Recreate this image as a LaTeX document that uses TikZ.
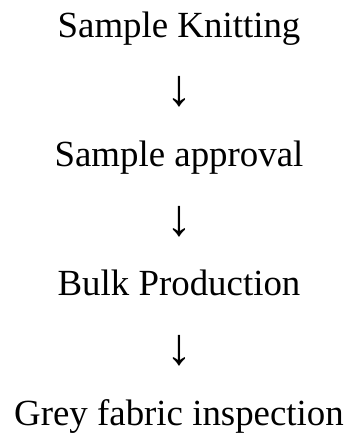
\documentclass[tikz,border=0pt]{standalone}
\usepackage{fontspec}
\setmainfont{Liberation Serif}
\begin{document}
\begin{tikzpicture}[x=1bp,y=-1bp,
  lbl/.style={inner sep=0pt,anchor=base,font=\fontsize{37}{40}\selectfont},
  arr/.style={inner sep=0pt,anchor=center,font=\fontsize{52}{56}\selectfont}]
\useasboundingbox (0,0) rectangle (350,435);
\node[lbl] (a) at (179,38) {Sample Knitting};
\node[arr] (a1) at (179,92) {↓};
\node[lbl] (b) at (179,167) {Sample approval};
\node[arr] (b1) at (179,221.5) {↓};
\node[lbl] (c) at (179,295) {Bulk Production};
\node[arr] (c1) at (179,351) {↓};
\node[lbl] (d) at (179,425) {Grey fabric inspection};
\end{tikzpicture}
\end{document}
